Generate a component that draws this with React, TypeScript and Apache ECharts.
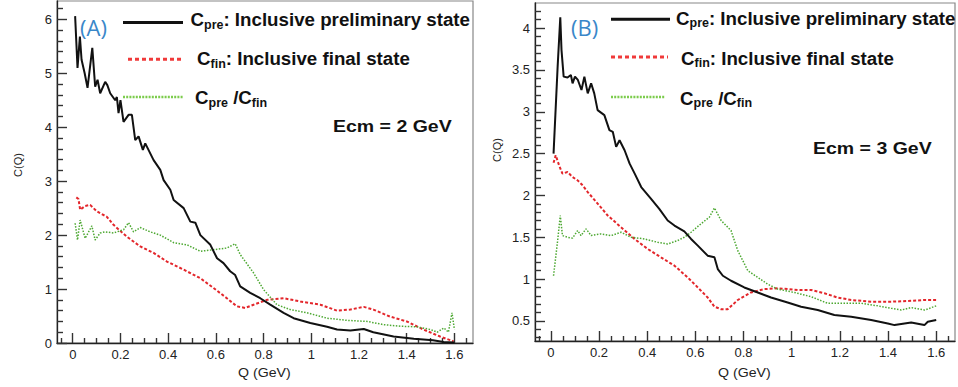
import React, { useEffect, useRef } from "react";
import * as echarts from "echarts";

// ---------- Data ----------
// Panel A (Ecm = 2 GeV)
const preA: [number, number][] = [
  [0.01, 6.06], [0.02, 5.1], [0.03, 5.68], [0.037, 5.25], [0.05, 5.0], [0.062, 4.73], [0.082, 5.47],
  [0.094, 4.75], [0.104, 4.88], [0.115, 4.63], [0.136, 4.84], [0.145, 4.78], [0.157, 4.63],
  [0.178, 4.5], [0.185, 4.56], [0.192, 4.26], [0.2, 4.5], [0.213, 4.1], [0.234, 4.23], [0.248, 4.23],
  [0.262, 3.76], [0.276, 3.83], [0.294, 3.58], [0.304, 3.7], [0.339, 3.39], [0.367, 3.21],
  [0.381, 3.02], [0.409, 2.84], [0.423, 2.65], [0.465, 2.5], [0.493, 2.25], [0.514, 2.23],
  [0.535, 2.0], [0.577, 1.82], [0.605, 1.57], [0.632, 1.48], [0.66, 1.33], [0.681, 1.26],
  [0.702, 1.05], [0.744, 0.93], [0.786, 0.83], [0.828, 0.71], [0.884, 0.56], [0.926, 0.46],
  [0.996, 0.37], [1.066, 0.3], [1.108, 0.25], [1.164, 0.23], [1.22, 0.26], [1.26, 0.2],
  [1.345, 0.12], [1.43, 0.08], [1.51, 0.05], [1.555, 0.02], [1.6, 0.01],
];
const finA: [number, number][] = [
  [0.015, 2.7], [0.024, 2.67], [0.031, 2.47], [0.052, 2.54], [0.073, 2.56], [0.101, 2.44],
  [0.143, 2.34], [0.171, 2.19], [0.227, 1.97], [0.283, 1.79], [0.339, 1.67], [0.395, 1.51],
  [0.465, 1.36], [0.535, 1.2], [0.59, 1.02], [0.646, 0.83], [0.688, 0.68], [0.723, 0.65],
  [0.758, 0.71], [0.814, 0.8], [0.884, 0.83], [0.954, 0.77], [1.038, 0.71], [1.108, 0.6],
  [1.164, 0.62], [1.22, 0.67], [1.26, 0.62], [1.33, 0.49], [1.4, 0.4], [1.47, 0.25],
  [1.54, 0.12], [1.597, 0.03],
];
const ratioA: [number, number][] = [
  [0.01, 2.22], [0.02, 1.91], [0.031, 2.28], [0.052, 1.94], [0.08, 2.17], [0.094, 1.91],
  [0.115, 2.04], [0.136, 2.06], [0.171, 2.04], [0.213, 2.1], [0.234, 2.23], [0.255, 2.06],
  [0.283, 2.14], [0.325, 2.06], [0.367, 2.0], [0.423, 1.86], [0.479, 1.82], [0.535, 1.7],
  [0.59, 1.73], [0.646, 1.76], [0.681, 1.84], [0.702, 1.64], [0.758, 1.3], [0.8, 0.99],
  [0.856, 0.71], [0.912, 0.62], [0.982, 0.56], [1.066, 0.46], [1.15, 0.42], [1.234, 0.4],
  [1.304, 0.34], [1.374, 0.31], [1.443, 0.3], [1.5, 0.25], [1.528, 0.2], [1.556, 0.28],
  [1.575, 0.2], [1.59, 0.56], [1.6, 0.25],
];

// Panel B (Ecm = 3 GeV)
const preB: [number, number][] = [
  [0.011, 2.5], [0.028, 3.54], [0.039, 4.13], [0.044, 3.74], [0.053, 3.42], [0.069, 3.41],
  [0.083, 3.44], [0.09, 3.34], [0.1, 3.42], [0.112, 3.38], [0.127, 3.26], [0.139, 3.42],
  [0.153, 3.22], [0.167, 3.34], [0.18, 3.22], [0.194, 3.02], [0.222, 2.96], [0.243, 2.78],
  [0.257, 2.76], [0.271, 2.58], [0.285, 2.66], [0.306, 2.54], [0.327, 2.38], [0.348, 2.26],
  [0.375, 2.1], [0.416, 1.96], [0.45, 1.84], [0.485, 1.7], [0.513, 1.64], [0.554, 1.57],
  [0.582, 1.48], [0.61, 1.4], [0.651, 1.28], [0.679, 1.26], [0.693, 1.12], [0.714, 1.04],
  [0.748, 0.98], [0.803, 0.9], [0.859, 0.84], [0.914, 0.78], [0.983, 0.72], [1.039, 0.67],
  [1.108, 0.63], [1.177, 0.57], [1.247, 0.55], [1.33, 0.51], [1.399, 0.47], [1.427, 0.45],
  [1.496, 0.48], [1.551, 0.45], [1.565, 0.49], [1.6, 0.51],
];
const finB: [number, number][] = [
  [0.011, 2.39], [0.02, 2.48], [0.034, 2.36], [0.048, 2.26], [0.069, 2.28], [0.09, 2.22],
  [0.111, 2.18], [0.132, 2.12], [0.153, 2.04], [0.18, 1.95], [0.236, 1.76], [0.291, 1.62],
  [0.347, 1.48], [0.402, 1.36], [0.457, 1.26], [0.513, 1.16], [0.568, 1.02], [0.61, 0.9],
  [0.651, 0.78], [0.679, 0.67], [0.707, 0.64], [0.734, 0.64], [0.776, 0.75], [0.831, 0.84],
  [0.887, 0.88], [0.942, 0.89], [1.025, 0.87], [1.08, 0.87], [1.136, 0.83], [1.19, 0.78],
  [1.247, 0.75], [1.33, 0.73], [1.413, 0.73], [1.496, 0.74], [1.552, 0.75], [1.6, 0.75],
];
const ratioB: [number, number][] = [
  [0.011, 1.04], [0.028, 1.46], [0.039, 1.76], [0.048, 1.52], [0.069, 1.5], [0.09, 1.49],
  [0.111, 1.58], [0.125, 1.52], [0.146, 1.6], [0.167, 1.52], [0.208, 1.54], [0.25, 1.52],
  [0.291, 1.56], [0.333, 1.5], [0.388, 1.48], [0.443, 1.44], [0.485, 1.42], [0.526, 1.46],
  [0.554, 1.5], [0.582, 1.56], [0.623, 1.66], [0.658, 1.74], [0.679, 1.85], [0.707, 1.7],
  [0.748, 1.58], [0.776, 1.34], [0.818, 1.1], [0.859, 1.02], [0.9, 0.94], [0.942, 0.88],
  [1.011, 0.84], [1.08, 0.79], [1.15, 0.71], [1.22, 0.71], [1.289, 0.71], [1.358, 0.68],
  [1.413, 0.65], [1.455, 0.63], [1.496, 0.66], [1.552, 0.63], [1.6, 0.68],
];

// Tick values
const xMajor = [0, 0.2, 0.4, 0.6, 0.8, 1, 1.2, 1.4, 1.6];
const xMinor = [-0.05, 0.05, 0.1, 0.15, 0.25, 0.3, 0.35, 0.45, 0.5, 0.55, 0.65, 0.7, 0.75, 0.85, 0.9, 0.95, 1.05, 1.1, 1.15, 1.25, 1.3, 1.35, 1.45, 1.5, 1.55, 1.65];
const yMajorA = [0, 1, 2, 3, 4, 5, 6];
const yMinorA = [0.2, 0.4, 0.6, 0.8, 1.2, 1.4, 1.6, 1.8, 2.2, 2.4, 2.6, 2.8, 3.2, 3.4, 3.6, 3.8, 4.2, 4.4, 4.6, 4.8, 5.2, 5.4, 5.6, 5.8, 6.2];
const yMajorB = [0.5, 1, 1.5, 2, 2.5, 3, 3.5, 4];
const yMinorB = [0.3, 0.4, 0.6, 0.7, 0.8, 0.9, 1.1, 1.2, 1.3, 1.4, 1.6, 1.7, 1.8, 1.9, 2.1, 2.2, 2.3, 2.4, 2.6, 2.7, 2.8, 2.9, 3.1, 3.2, 3.3, 3.4, 3.6, 3.7, 3.8, 3.9, 4.1, 4.2];

const FONT = "Liberation Sans";
const BLACK = "#111111";
const RED = "#e3262b";
const GREEN = "#4da832";
const BLUE = "#3a87c9";
const TICK = "#333333";

const X_MIN = -0.066;
const X_MAX = 1.678;

function fmt(v: number) {
  return String(Math.round(v * 100) / 100);
}

function xAxisMajor(grid: number) {
  return {
    type: "value", gridIndex: grid, min: X_MIN, max: X_MAX,
    splitLine: { show: false },
    axisLine: { show: true, onZero: false, lineStyle: { color: "#222", width: 1.3 } },
    axisTick: { show: true, inside: true, length: 10, customValues: xMajor, lineStyle: { color: TICK, width: 1.4 } },
    axisLabel: { show: true, customValues: xMajor, formatter: fmt, margin: 5, fontFamily: FONT, fontSize: 13, color: "#222" },
  };
}
function xAxisMinor(grid: number) {
  return {
    type: "value", gridIndex: grid, min: X_MIN, max: X_MAX,
    splitLine: { show: false },
    axisLine: { show: false, onZero: false },
    axisTick: { show: true, inside: true, length: 5, customValues: xMinor, lineStyle: { color: TICK, width: 1.4 } },
    axisLabel: { show: false, customValues: xMinor },
  };
}
function yAxisMajor(grid: number, min: number, max: number, major: number[]) {
  return {
    type: "value", gridIndex: grid, min, max,
    splitLine: { show: false },
    axisLine: { show: true, onZero: false, lineStyle: { color: "#222", width: 1.3 } },
    axisTick: { show: true, inside: true, length: 10, customValues: major, lineStyle: { color: TICK, width: 1.4 } },
    axisLabel: { show: true, customValues: major, formatter: fmt, margin: 5, fontFamily: FONT, fontSize: 13, color: "#222" },
  };
}
function yAxisMinor(grid: number, min: number, max: number, minor: number[]) {
  return {
    type: "value", gridIndex: grid, min, max,
    splitLine: { show: false },
    axisLine: { show: false, onZero: false },
    axisTick: { show: true, inside: true, length: 6, customValues: minor, lineStyle: { color: TICK, width: 1.4 } },
    axisLabel: { show: false, customValues: minor },
  };
}

function lineSeries(data: [number, number][], idx: number, color: string, width: number, type: any, z: number) {
  return {
    type: "line", data, xAxisIndex: idx, yAxisIndex: idx, showSymbol: false, symbol: "none",
    clip: true, z,
    lineStyle: { color, width, type },
  };
}

const richStyles = {
  m: { fontFamily: FONT, fontSize: 18, fontWeight: "bold", lineHeight: 22, fill: "#111" },
  s: { fontFamily: FONT, fontSize: 12, fontWeight: "bold", lineHeight: 12, verticalAlign: "bottom", fill: "#111" },
};

function legendText(x: number, y: number, text: string) {
  return {
    type: "text", x, y, scaleX: 1.04,
    style: { text, rich: richStyles, textAlign: "left", textVerticalAlign: "middle", fill: "#111" },
  };
}

function plainText(x: number, y: number, text: string, size: number, weight: string, color: string, family: string, scaleX = 1) {
  return {
    type: "text", x, y, scaleX,
    style: { text, fontFamily: family, fontSize: size, fontWeight: weight, fill: color, textAlign: "left", textVerticalAlign: "middle" },
  };
}

function sample(x1: number, x2: number, y: number, color: string, width: number, dash: any) {
  return {
    type: "line", shape: { x1, y1: y, x2, y2: y },
    style: { stroke: color, lineWidth: width, lineDash: dash },
  };
}

function panelGraphics(p: any) {
  return [
    plainText(p.labX, 27, p.lab, 22, "normal", BLUE, "Open Sans"),
    sample(p.sx1, p.bx2, p.ly1, BLACK, 3, null),
    sample(p.rx1, p.rx2, p.ly2, "#f03a3a", 3, [4, 3]),
    sample(p.sx1, p.gx2, p.ly3, "#7ccc4c", 2.5, [2, 1.2]),
    legendText(p.tx1, p.ty1, "{m|C}{s|pre}{m|: Inclusive preliminary state}"),
    legendText(p.tx2, p.ty2, "{m|C}{s|fin}{m|: Inclusive final state}"),
    legendText(p.tx3, p.ty3, "{m|C}{s|pre}{m| /C}{s|fin}"),
    plainText(p.ecmX, p.ecmY, p.ecm, 16, "bold", "#111", FONT, 1.22),
    plainText(p.qx, 373, "Q (GeV)", 12, "normal", "#222", FONT, 1.18),
    {
      type: "text", x: p.cX, y: p.cY, rotation: Math.PI / 2,
      style: { text: "C(Q)", fontFamily: FONT, fontSize: 11, fill: "#222", textAlign: "center", textVerticalAlign: "middle" },
    },
  ];
}

const RECT_A = { left: 57, top: 1, width: 416, height: 342 };
const RECT_B = { left: 535, top: 3, width: 420, height: 338 };

export default function App() {
  const ref = useRef<HTMLDivElement>(null);
  useEffect(() => {
    if (!ref.current) return;
    const chart = echarts.init(ref.current, null, { renderer: "svg" });
    const option: any = {
      animation: false,
      backgroundColor: "#ffffff",
      grid: [
        { ...RECT_A },
        { ...RECT_B },
        { ...RECT_A, show: true, borderColor: "#888", borderWidth: 1.2, backgroundColor: "transparent" },
        { ...RECT_B, show: true, borderColor: "#888", borderWidth: 1.2, backgroundColor: "transparent" },
      ],
      xAxis: [xAxisMajor(0), xAxisMajor(1), xAxisMinor(2), xAxisMinor(3)],
      yAxis: [
        yAxisMajor(0, 0, 6.34, yMajorA),
        yAxisMajor(1, 0.26, 4.3, yMajorB),
        yAxisMinor(2, 0, 6.34, yMinorA),
        yAxisMinor(3, 0.26, 4.3, yMinorB),
      ],
      series: [
        lineSeries(finA, 0, RED, 2, [3, 2], 3),
        lineSeries(ratioA, 0, GREEN, 1.5, [1.5, 1.5], 4),
        lineSeries(preA, 0, BLACK, 2, "solid", 5),
        lineSeries(finB, 1, RED, 2, [3, 2], 3),
        lineSeries(ratioB, 1, GREEN, 1.5, [1.5, 1.5], 4),
        lineSeries(preB, 1, BLACK, 2, "solid", 5),
      ],
      graphic: [
        ...panelGraphics({
          lab: "(A)", labX: 80, sx1: 123, bx2: 183, rx1: 128, rx2: 183, gx2: 183,
          ly1: 22.5, ly2: 59.3, ly3: 97, tx1: 190.5, tx2: 197, tx3: 195,
          ty1: 20, ty2: 59, ty3: 98, ecm: "Ecm = 2 GeV", ecmX: 333, ecmY: 127,
          qx: 238, cX: 18, cY: 165,
        }),
        ...panelGraphics({
          lab: "(B)", labX: 571, sx1: 611, bx2: 670, rx1: 611, rx2: 668, gx2: 665,
          ly1: 19.3, ly2: 57, ly3: 97, tx1: 676, tx2: 681, tx3: 680,
          ty1: 18.5, ty2: 58.5, ty3: 98.5, ecm: "Ecm = 3 GeV", ecmX: 813, ecmY: 149,
          qx: 718, cX: 497, cY: 150,
        }),
      ],
    };
    chart.setOption(option);
    return () => chart.dispose();
  }, []);
  return (
    <div
      ref={ref}
      style={{ position: "absolute", left: 0, top: 0, width: 958, height: 387 }}
    />
  );
}
